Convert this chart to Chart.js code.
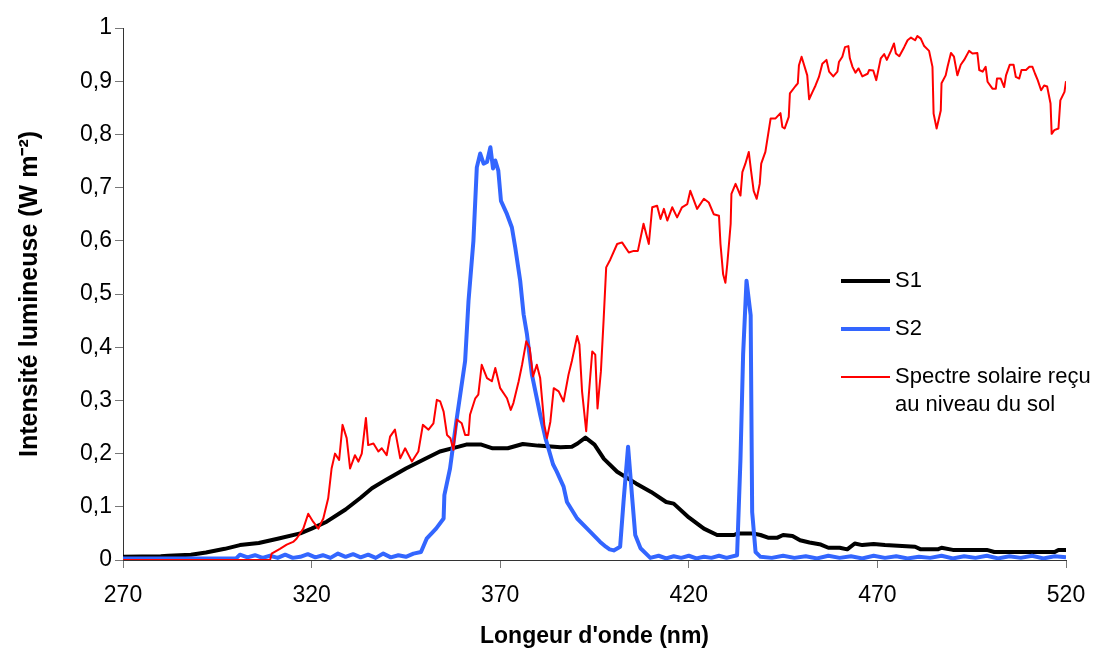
<!DOCTYPE html>
<html>
<head>
<meta charset="utf-8">
<script src="https://cdn.jsdelivr.net/npm/chart.js@4/dist/chart.umd.min.js"></script>
<style>
  html, body { margin: 0; padding: 0; background: #fff; }
</style>
</head>
<body>
<canvas id="myChart" width="1094" height="648"></canvas>
<script>
// wavelength (nm) / intensity pairs
var s1 = [[270,0.006],[280,0.007],[282,0.008],[288,0.01],[292,0.014],[297,0.021],[301,0.028],[306,0.032],[311,0.04],[317,0.05],[320,0.059],[324,0.072],[329,0.095],[333,0.117],[336,0.135],[340,0.152],[345,0.172],[350,0.19],[354,0.204],[359,0.213],[361,0.217],[365,0.217],[368,0.21],[372,0.21],[376,0.218],[380,0.215],[386,0.212],[389,0.213],[390.5,0.219],[392.6,0.23],[395,0.217],[397.5,0.19],[401,0.166],[406,0.144],[410,0.128],[414,0.109],[416,0.106],[420,0.08],[424,0.059],[427.5,0.047],[432,0.047],[433,0.05],[437,0.05],[439,0.047],[441,0.042],[443.5,0.042],[445,0.047],[447.5,0.045],[449.5,0.037],[452,0.033],[455,0.029],[457,0.023],[460,0.023],[462,0.02],[464,0.031],[466,0.028],[469,0.03],[472,0.028],[480,0.025],[481.5,0.02],[486,0.02],[487,0.023],[490,0.019],[499,0.019],[501,0.015],[517,0.015],[518,0.019],[520,0.019]];

var s2 = [[270,0.003],[300,0.003],[301,0.01],[303,0.005],[305,0.009],[307,0.004],[309,0.008],[311,0.004],[313,0.01],[315,0.004],[317,0.006],[319,0.011],[321,0.005],[323,0.009],[325,0.004],[327,0.012],[329,0.006],[331,0.011],[333,0.005],[335,0.01],[337,0.004],[339,0.012],[341,0.005],[343,0.009],[345,0.006],[347,0.012],[349,0.015],[350.5,0.04],[353,0.059],[355,0.078],[355.2,0.122],[356.7,0.172],[358.5,0.267],[360.7,0.374],[361.6,0.487],[362.9,0.6],[363.8,0.738],[364.7,0.764],[365.6,0.745],[366.5,0.748],[367.4,0.776],[368.1,0.736],[368.7,0.751],[369.5,0.732],[370.2,0.675],[371.8,0.65],[373.1,0.625],[374,0.587],[375.3,0.525],[376.2,0.462],[377.1,0.424],[378.4,0.349],[380.6,0.273],[382,0.229],[384,0.18],[385,0.166],[386.8,0.138],[387.7,0.109],[390.4,0.078],[393.9,0.053],[396.5,0.034],[398,0.025],[399,0.02],[400.1,0.018],[401.8,0.025],[402.7,0.11],[403.9,0.213],[405,0.116],[405.8,0.047],[407.2,0.022],[409.8,0.004],[412,0.008],[414,0.003],[416,0.007],[418,0.004],[420,0.008],[422,0.003],[424,0.006],[426,0.004],[428,0.008],[430,0.004],[432.8,0.009],[433.7,0.19],[434.4,0.386],[435.3,0.525],[436.4,0.46],[436.8,0.09],[437.7,0.015],[439,0.006],[442,0.004],[445,0.008],[448,0.004],[451,0.007],[454,0.003],[457,0.008],[460,0.004],[463,0.007],[466,0.003],[469,0.008],[472,0.004],[475,0.007],[478,0.003],[481,0.006],[484,0.004],[487,0.008],[490,0.003],[493,0.007],[496,0.004],[499,0.008],[502,0.003],[505,0.007],[508,0.004],[511,0.008],[514,0.003],[517,0.007],[520,0.005]];

var solaire = [[270,0],[300,0],[309,0],[309.4,0.012],[311.6,0.021],[313.4,0.029],[315.1,0.034],[316,0.04],[317.8,0.059],[319.1,0.087],[320.4,0.072],[321.8,0.059],[323.1,0.078],[324.4,0.116],[325.3,0.172],[326.2,0.2],[327.3,0.188],[328.2,0.254],[329.3,0.229],[330.2,0.172],[331.5,0.197],[332.4,0.185],[333.3,0.2],[334.4,0.267],[335,0.216],[336.4,0.219],[337.7,0.204],[338.6,0.21],[339.9,0.197],[340.8,0.232],[342.1,0.245],[343.5,0.191],[344.8,0.21],[346.6,0.185],[348.3,0.204],[349.5,0.254],[351,0.245],[352.3,0.257],[353.2,0.301],[354.1,0.298],[355,0.279],[355.9,0.235],[356.8,0.229],[357.6,0.207],[358.5,0.264],[359.8,0.257],[360.7,0.235],[361.6,0.235],[362,0.273],[363.4,0.304],[364.2,0.311],[365.1,0.367],[366.5,0.342],[367.8,0.336],[368.7,0.361],[370,0.323],[371.8,0.304],[372.8,0.282],[373.5,0.295],[374.9,0.336],[375.8,0.367],[376.9,0.411],[377.8,0.399],[378.7,0.345],[379.7,0.367],[380.6,0.342],[381.7,0.254],[382.4,0.229],[383.3,0.26],[384.2,0.323],[385.5,0.317],[386.8,0.298],[388.1,0.348],[389,0.374],[390.4,0.421],[391,0.405],[391.7,0.317],[392.8,0.242],[393.5,0.311],[394.4,0.392],[395.2,0.386],[395.8,0.285],[396.7,0.355],[397.4,0.449],[398.1,0.55],[399.2,0.565],[401,0.594],[402.3,0.597],[404.1,0.578],[405.4,0.581],[406.5,0.581],[408,0.632],[409.4,0.594],[410.3,0.663],[411.6,0.666],[412.5,0.641],[413.4,0.66],[414.3,0.638],[415.6,0.663],[416.9,0.644],[418.2,0.663],[419.6,0.669],[420.4,0.694],[422.2,0.66],[424,0.679],[425.3,0.672],[426.6,0.65],[428,0.647],[428.4,0.594],[429.1,0.537],[429.7,0.521],[430.2,0.556],[431.1,0.632],[431.3,0.688],[432.4,0.707],[433.7,0.685],[434.2,0.729],[435,0.745],[435.9,0.767],[436.5,0.732],[437.2,0.694],[438,0.679],[438.8,0.707],[439.2,0.745],[440.3,0.767],[441.7,0.83],[443,0.83],[444.3,0.84],[444.8,0.814],[445.4,0.811],[446.5,0.833],[446.8,0.877],[448.3,0.891],[448.9,0.896],[449.2,0.93],[449.9,0.946],[451.4,0.911],[451.9,0.866],[452.8,0.88],[453.6,0.892],[454.5,0.908],[455.4,0.933],[456.5,0.94],[457.2,0.918],[458.3,0.909],[459.4,0.918],[459.8,0.936],[460.7,0.946],[461.4,0.964],[462.3,0.966],[462.7,0.943],[463.4,0.927],[464.2,0.916],[465,0.924],[466,0.909],[467.4,0.914],[467.8,0.921],[468.9,0.92],[469.7,0.902],[470.9,0.943],[471.8,0.951],[472.5,0.94],[473.6,0.957],[474.4,0.971],[474.9,0.952],[475.8,0.947],[477.1,0.964],[478,0.977],[478.9,0.982],[480,0.977],[480.6,0.985],[481.5,0.98],[482.4,0.966],[483.7,0.957],[484.6,0.927],[484.9,0.839],[485.7,0.811],[486.8,0.845],[487,0.896],[488.1,0.911],[488.6,0.927],[489.5,0.953],[490.3,0.946],[491.2,0.911],[492.1,0.931],[493,0.94],[494.3,0.957],[495.2,0.952],[496.5,0.953],[497,0.921],[497.9,0.918],[498.7,0.927],[499.2,0.899],[500.5,0.886],[501.4,0.886],[501.7,0.905],[502.7,0.905],[503.6,0.889],[504.1,0.911],[505.1,0.931],[506.1,0.931],[506.7,0.908],[507.6,0.905],[508.2,0.921],[509.4,0.921],[510.3,0.927],[511.1,0.927],[511.8,0.914],[512.5,0.902],[513.4,0.883],[514.2,0.892],[515,0.89],[515.9,0.858],[516.2,0.801],[516.9,0.808],[518,0.811],[518.5,0.864],[519.6,0.88],[520,0.9]];

var seriesNames = ['S1', 'S2', 'Spectre solaire reçu au niveau du sol'];
var legendLines = [['S1'], ['S2'], ['Spectre solaire reçu', 'au niveau du sol']];
var xTicks = [270, 320, 370, 420, 470, 520];
var yTicks = [0, 0.1, 0.2, 0.3, 0.4, 0.5, 0.6, 0.7, 0.8, 0.9, 1];
var yTickLabels = ['0', '0,1', '0,2', '0,3', '0,4', '0,5', '0,6', '0,7', '0,8', '0,9', '1'];

var FONT = '"Liberation Sans", Arial, sans-serif';

function toPoints(arr) {
  return arr.map(function (p) { return { x: p[0], y: p[1] }; });
}

// legend drawn inside the plot, like the original
var legendInside = {
  id: 'legendInside',
  afterDraw: function (chart) {
    var ctx = chart.ctx;
    var ys = [281, 329, 377];
    chart.data.datasets.forEach(function (ds, i) {
      ctx.save();
      ctx.strokeStyle = ds.borderColor;
      ctx.lineWidth = ds.borderWidth;
      ctx.beginPath();
      ctx.moveTo(841, ys[i]);
      ctx.lineTo(890, ys[i]);
      ctx.stroke();
      ctx.fillStyle = '#000';
      ctx.font = '22px ' + FONT;
      ctx.textBaseline = 'middle';
      legendLines[i].forEach(function (t, k) {
        ctx.fillText(t, 895, ys[i] + k * 28);
      });
      ctx.restore();
    });
  }
};

var ctx = document.getElementById('myChart').getContext('2d');
var chart = new Chart(ctx, {
  type: 'line',
  data: {
    datasets: [{
      label: seriesNames[0],
      data: toPoints(s1),
      borderColor: '#000000',
      borderWidth: 4,
      order: 3
    }, {
      label: seriesNames[1],
      data: toPoints(s2),
      borderColor: '#3366FF',
      borderWidth: 4,
      order: 2
    }, {
      label: seriesNames[2],
      data: toPoints(solaire),
      borderColor: '#FF0000',
      borderWidth: 2,
      order: 1
    }]
  },
  options: {
    responsive: false,
    animation: false,
    devicePixelRatio: 1,
    elements: { point: { radius: 0 }, line: { tension: 0, borderJoinStyle: 'round' } },
    layout: { padding: { left: 0, right: 28, top: 28, bottom: 0 } },
    plugins: { legend: { display: false }, tooltip: { enabled: false } },
    scales: {
      x: {
        type: 'linear',
        min: 270,
        max: 520,
        afterBuildTicks: function (scale) {
          scale.ticks = xTicks.map(function (v) { return { value: v }; });
        },
        afterFit: function (scale) {
          scale.height = 88;
          scale.paddingLeft = 0;
          scale.paddingRight = 0;
        },
        ticks: { color: '#000', font: { family: FONT, size: 23 }, padding: 14, maxRotation: 0 },
        grid: { drawOnChartArea: false, drawTicks: true, tickLength: 8, color: '#777' },
        border: { display: true, color: '#333', width: 1 },
        title: {
          display: true,
          text: "Longeur d'onde (nm)",
          color: '#000',
          font: { family: FONT, size: 23, weight: 'bold' },
          padding: { top: 0, bottom: -2 }
        }
      },
      y: {
        min: 0,
        max: 1,
        afterBuildTicks: function (scale) {
          scale.ticks = yTicks.map(function (v) { return { value: v }; });
        },
        afterFit: function (scale) { scale.width = 123; },
        ticks: {
          color: '#000',
          font: { family: FONT, size: 23 },
          padding: 3,
          callback: function (value) {
            var i = yTicks.indexOf(Math.round(value * 10) / 10);
            return i >= 0 ? yTickLabels[i] : '';
          }
        },
        grid: { drawOnChartArea: false, drawTicks: true, tickLength: 8, color: '#777' },
        border: { display: true, color: '#333', width: 1 },
        title: {
          display: true,
          text: 'Intensité lumineuse (W m⁻²)',
          color: '#000',
          font: { family: FONT, size: 25, weight: 'bold' },
          padding: { top: 15, bottom: 0 }
        }
      }
    }
  },
  plugins: [legendInside]
});
</script>
</body>
</html>
